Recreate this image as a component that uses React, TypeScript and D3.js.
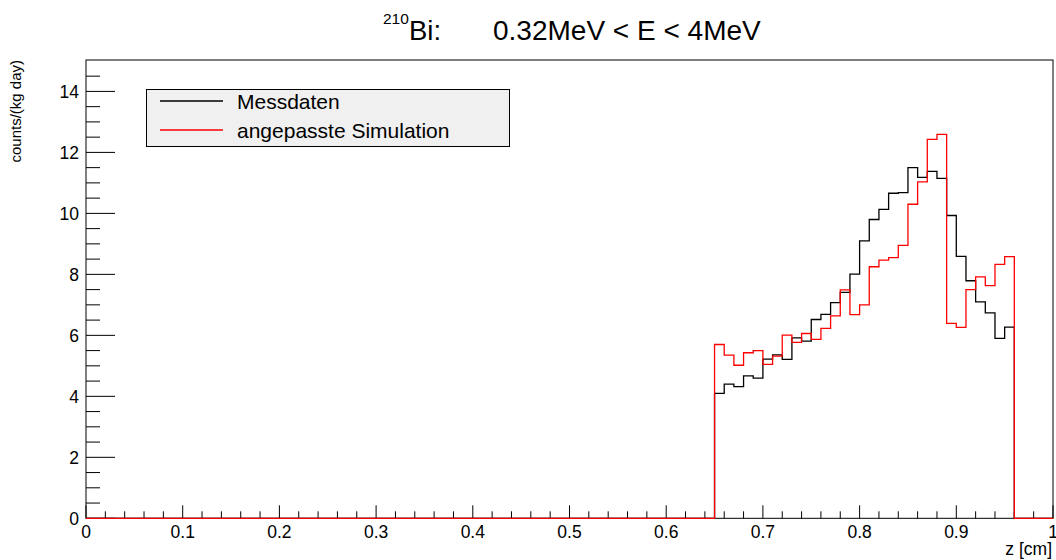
import React from "react";
import * as d3 from "d3";

const binStart = 0.65;
const binWidth = 0.01;
const messdaten = [4.10, 4.40, 4.32, 4.67, 4.60, 5.22, 5.36, 5.21, 5.92, 5.81, 6.52, 6.69, 7.07, 7.41, 8.01, 9.10, 9.80, 10.13, 10.66, 10.68, 11.50, 11.18, 11.38, 11.15, 9.93, 8.59, 7.79, 7.10, 6.74, 5.90, 6.27];
const simulation = [5.70, 5.35, 5.02, 5.43, 5.50, 5.05, 5.32, 6.01, 5.77, 6.06, 5.87, 6.23, 6.64, 7.49, 6.68, 7.00, 8.25, 8.47, 8.55, 8.95, 10.30, 11.03, 12.43, 12.59, 6.39, 6.26, 7.50, 7.92, 7.63, 8.33, 8.58];
const xTickLabels = ["0", "0.1", "0.2", "0.3", "0.4", "0.5", "0.6", "0.7", "0.8", "0.9", "1"];
const yTickLabels = ["0", "2", "4", "6", "8", "10", "12", "14"];
const legendLabels = ["Messdaten", "angepasste Simulation"];
const seriesColors = ["#000000", "#ff0000"];

const W = 1056, H = 560;
const left = 86, right = 1053, top = 60, bottom = 518.3;
const FONT = "'Liberation Sans', Arial, Helvetica, sans-serif";

export default function App() {
  const x = d3.scaleLinear().domain([0, 1]).range([left, right]);
  const y = d3.scaleLinear().domain([0, 15.03]).range([bottom, top]);

  const histPath = (vals: number[]) => {
    const pts: [number, number][] = [[0, 0]];
    vals.forEach((v, i) => pts.push([binStart + i * binWidth, v]));
    pts.push([binStart + vals.length * binWidth, 0]);
    pts.push([1, 0]);
    return d3.line<[number, number]>().x(d => x(d[0])).y(d => y(d[1])).curve(d3.curveStepAfter)(pts) || "";
  };

  const xMinor = d3.range(0, 51).map(i => i * 0.02);
  const yMinor = d3.range(0, 30).map(i => i * 0.5);

  return (
    <svg width={W} height={H} style={{ position: "absolute", left: 0, top: 0, background: "#fff" }} fontFamily={FONT}>
      <rect x={0} y={0} width={W} height={H} fill="#fff" />
      {/* title */}
      <text y={39.5} fill="#000">
        <tspan x={383} y={24} fontSize={15.5}>210</tspan>
        <tspan x={409} y={39.5} fontSize={27.5}>Bi:</tspan>
        <tspan x={493} y={39.5} fontSize={28}>0.32MeV &lt; E &lt; 4MeV</tspan>
      </text>

      {/* frame */}
      <rect x={left} y={top} width={right - left} height={bottom - top} fill="none" stroke="#000" strokeWidth={1} />

      {/* x ticks */}
      {xMinor.map((v, i) => (
        <line key={"xm" + i} x1={x(v)} x2={x(v)} y1={bottom} y2={bottom - (i % 5 === 0 ? 13 : 7)} stroke="#000" strokeWidth={1} />
      ))}
      {xTickLabels.map((t, i) => (
        <text key={"xl" + i} x={x(i * 0.1)} y={537.5} fontSize={17.5} textAnchor="middle" fill="#000">{t}</text>
      ))}

      {/* y ticks */}
      {yMinor.map((v, i) => (
        <line key={"ym" + i} x1={left} x2={left + (i % 4 === 0 ? 29 : 14)} y1={y(v)} y2={y(v)} stroke="#000" strokeWidth={1} />
      ))}
      {yTickLabels.map((t, i) => (
        <text key={"yl" + i} x={79} y={y(i * 2) + 6.2} fontSize={17.5} textAnchor="end" fill="#000">{t}</text>
      ))}

      {/* axis titles */}
      <text x={1052} y={555} fontSize={17.5} textAnchor="end" fill="#000">z [cm]</text>
      <text transform="translate(21,60) rotate(-90)" fontSize={15} textAnchor="end" fill="#000">counts/(kg day)</text>

      {/* histograms */}
      <path d={histPath(messdaten)} fill="none" stroke={seriesColors[0]} strokeWidth={1.3} />
      <path d={histPath(simulation)} fill="none" stroke={seriesColors[1]} strokeWidth={1.3} />

      {/* legend */}
      <rect x={146.5} y={89.5} width={363} height={57} fill="#f0f0f0" stroke="#000" strokeWidth={1} />
      {legendLabels.map((l, i) => (
        <g key={"lg" + i}>
          <line x1={160} x2={223} y1={101 + i * 29} y2={101 + i * 29} stroke={seriesColors[i]} strokeWidth={1.3} />
          <text x={237} y={108.5 + i * 29} fontSize={21} fill="#000">{l}</text>
        </g>
      ))}
    </svg>
  );
}
